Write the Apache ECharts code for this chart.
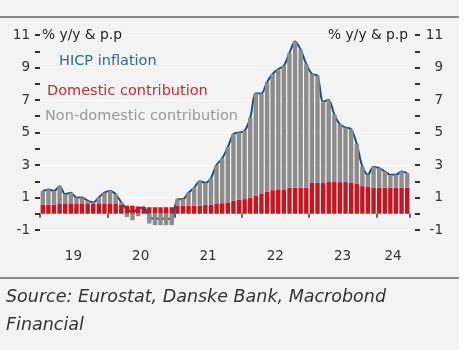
<!DOCTYPE html>
<html>
<head>
<meta charset="utf-8">
<script src="https://cdn.jsdelivr.net/npm/echarts@6/dist/echarts.min.js"></script>
<style>
  html, body { margin: 0; padding: 0; background: #ffffff; }
  #chart { width: 459px; height: 350px; }
</style>
</head>
<body>
<div id="chart"></div>
<script>
// monthly, Jan 2019 - Jun 2024
var months = [
  '2019-01', '2019-02', '2019-03', '2019-04', '2019-05', '2019-06', '2019-07', '2019-08', '2019-09', '2019-10', '2019-11', '2019-12',
  '2020-01', '2020-02', '2020-03', '2020-04', '2020-05', '2020-06', '2020-07', '2020-08', '2020-09', '2020-10', '2020-11', '2020-12',
  '2021-01', '2021-02', '2021-03', '2021-04', '2021-05', '2021-06', '2021-07', '2021-08', '2021-09', '2021-10', '2021-11', '2021-12',
  '2022-01', '2022-02', '2022-03', '2022-04', '2022-05', '2022-06', '2022-07', '2022-08', '2022-09', '2022-10', '2022-11', '2022-12',
  '2023-01', '2023-02', '2023-03', '2023-04', '2023-05', '2023-06', '2023-07', '2023-08', '2023-09', '2023-10', '2023-11', '2023-12',
  '2024-01', '2024-02', '2024-03', '2024-04', '2024-05', '2024-06'
]

// year labels and the month they sit on
var yearLabels = { '2019-07': '19', '2020-07': '20', '2021-07': '21', '2022-07': '22', '2023-07': '23', '2024-04': '24' }

var hicp = [
  1.4, 1.5, 1.4, 1.7, 1.2, 1.3, 1.0, 1.0, 0.8, 0.7, 1.0, 1.3,
  1.4, 1.2, 0.7, 0.3, 0.1, 0.3, 0.4, -0.2, -0.3, -0.3, -0.3, -0.3,
  0.9, 0.9, 1.3, 1.6, 2.0, 1.9, 2.2, 3.0, 3.4, 4.1, 4.9, 5.0,
  5.1, 5.9, 7.4, 7.4, 8.1, 8.6, 8.9, 9.1, 9.9, 10.6, 10.1, 9.2,
  8.6, 8.5, 6.9, 7.0, 6.1, 5.5, 5.3, 5.2, 4.3, 2.9, 2.4, 2.9,
  2.8, 2.6, 2.4, 2.4, 2.6, 2.5
]

var domestic = [
  0.55, 0.55, 0.55, 0.6, 0.6, 0.6, 0.6, 0.6, 0.6, 0.6, 0.6, 0.6,
  0.6, 0.6, 0.55, 0.5, 0.5, 0.45, 0.4, 0.4, 0.4, 0.4, 0.4, 0.4,
  0.5, 0.5, 0.5, 0.5, 0.5, 0.55, 0.55, 0.6, 0.65, 0.7, 0.8, 0.85,
  0.9, 1.0, 1.1, 1.25, 1.35, 1.45, 1.5, 1.5, 1.6, 1.6, 1.6, 1.6,
  1.9, 1.9, 1.9, 1.95, 1.95, 1.95, 1.95, 1.9, 1.85, 1.7, 1.65, 1.6,
  1.6, 1.6, 1.6, 1.6, 1.6, 1.6
]

var nonDomestic = [
  0.85, 0.95, 0.85, 1.1, 0.6, 0.7, 0.4, 0.4, 0.2, 0.1, 0.4, 0.7,
  0.8, 0.6, 0.15, -0.2, -0.4, -0.15, 0.0, -0.6, -0.7, -0.7, -0.7, -0.7,
  0.4, 0.4, 0.8, 1.1, 1.5, 1.35, 1.65, 2.4, 2.75, 3.4, 4.1, 4.15,
  4.2, 4.9, 6.3, 6.15, 6.75, 7.15, 7.4, 7.6, 8.3, 9.0, 8.5, 7.6,
  6.7, 6.6, 5.0, 5.05, 4.15, 3.55, 3.35, 3.3, 2.45, 1.2, 0.75, 1.3,
  1.2, 1.0, 0.8, 0.8, 1.0, 0.9
]

var font = 'DejaVu Sans'
var tickStyle = { color: '#333333', width: 2 }

var chart = echarts.init(document.getElementById('chart'))

function yAxisFor (side) {
  var right = side === 'right'
  return {
    type: 'value',
    position: side,
    offset: right ? 5 : 0,
    min: -1,
    max: 11,
    interval: 2,
    axisLine: { show: false },
    axisTick: { show: true, length: 5, lineStyle: tickStyle },
    minorTick: { show: true, splitNumber: 2, length: 5, lineStyle: tickStyle },
    minorSplitLine: { show: false },
    splitLine: { show: !right, lineStyle: { color: '#ffffff', width: 1 } },
    axisLabel: {
      margin: right ? 28 : 10,
      align: 'right',
      color: '#333333',
      fontSize: 13.5,
      fontFamily: font
    },
    name: '% y/y & p.p',
    nameLocation: 'end',
    nameGap: 0,
    nameTextStyle: {
      align: right ? 'right' : 'left',
      verticalAlign: 'middle',
      padding: right ? [4, 7, 0, 0] : [4, 0, 0, 2],
      color: '#222222',
      fontSize: 13.8,
      fontFamily: font
    }
  }
}

function legendFor (name, color, left, top) {
  return {
    data: [name],
    left: left,
    top: top,
    padding: 0,
    itemWidth: 0,
    itemHeight: 0,
    itemGap: 0,
    selectedMode: false,
    textStyle: { color: color, fontSize: 14.5, fontFamily: font }
  }
}

var option = {
  backgroundColor: '#f3f3f3',
  animation: false,
  title: {
    text: 'Source: Eurostat, Danske Bank, Macrobond\nFinancial',
    left: 6,
    top: 283,
    padding: 0,
    textStyle: {
      fontStyle: 'italic',
      fontWeight: 'normal',
      fontSize: 17.5,
      lineHeight: 28,
      color: '#333333',
      fontFamily: font
    }
  },
  legend: [
    legendFor('HICP inflation', '#2f6a98', 53, 54),
    legendFor('Domestic contribution', '#cc2a33', 42, 84),
    legendFor('Non-domestic contribution', '#9a9a9a', 40, 109)
  ],
  graphic: [
    { type: 'line', shape: { x1: 0, y1: 17, x2: 459, y2: 17 }, style: { stroke: '#888888', lineWidth: 2 } },
    { type: 'line', shape: { x1: 0, y1: 278, x2: 459, y2: 278 }, style: { stroke: '#888888', lineWidth: 2 } }
  ],
  grid: { left: 40, right: 49, top: 35, bottom: 120 },
  xAxis: {
    type: 'category',
    data: months,
    boundaryGap: true,
    offset: 10,
    axisLine: { show: false },
    axisTick: {
      show: true,
      length: 4,
      interval: function (index) { return index % 12 === 0 },
      lineStyle: { color: '#333333', width: 1.5 }
    },
    axisLabel: {
      interval: function (index, value) { return yearLabels[value] !== undefined },
      formatter: function (value) { return yearLabels[value] || '' },
      margin: 9,
      padding: [0, 6, 0, 0],
      color: '#333333',
      fontSize: 13.5,
      fontFamily: font
    },
    splitLine: { show: false }
  },
  yAxis: [yAxisFor('left'), yAxisFor('right')],
  series: [
    {
      name: 'HICP inflation',
      type: 'line',
      data: hicp,
      smooth: 0.3,
      symbol: 'none',
      z: 2,
      lineStyle: { color: '#1d4d78', width: 2 },
      itemStyle: { color: '#1d4d78' }
    },
    {
      name: 'Domestic contribution',
      type: 'bar',
      stack: 'hicp',
      data: domestic,
      z: 3,
      barCategoryGap: '22%',
      itemStyle: { color: '#c8141e' }
    },
    {
      name: 'Non-domestic contribution',
      type: 'bar',
      stack: 'hicp',
      data: nonDomestic,
      z: 3,
      barCategoryGap: '22%',
      itemStyle: { color: '#8c8c8c' }
    }
  ]
}

chart.setOption(option)
</script>
</body>
</html>
